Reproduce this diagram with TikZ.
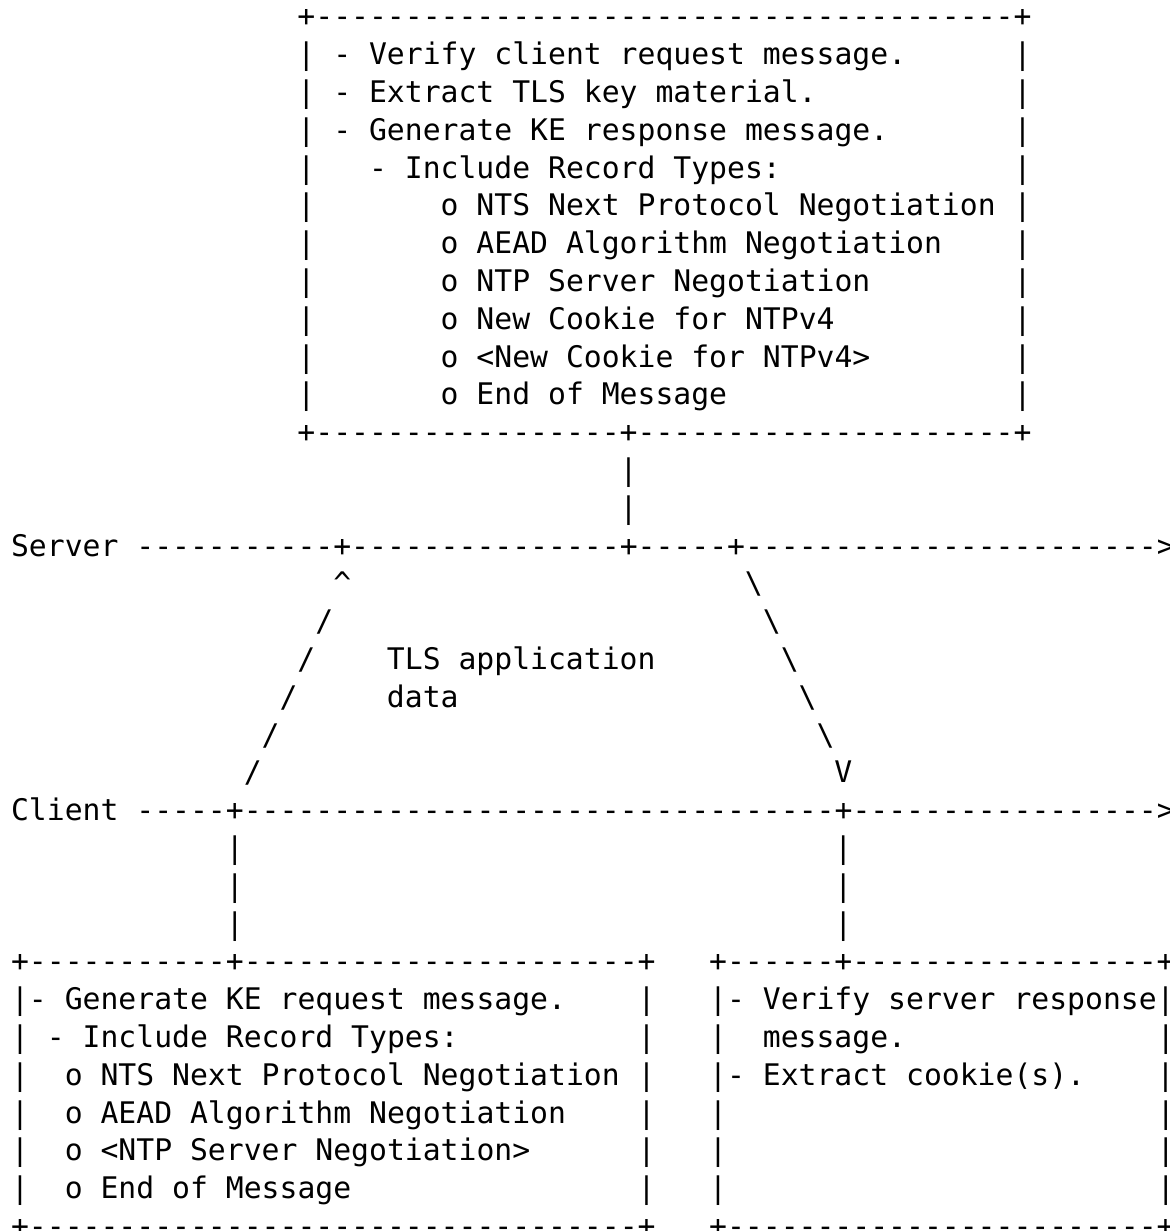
\documentclass[tikz,border=0pt]{standalone}
\usepackage{fontspec}
\setmonofont{DejaVu Sans Mono}
\newcommand{\gap}[1]{\hskip#1\fontcharwd\font`x\relax}
\newcommand{\hy}[1]{\foreach\k in {1,...,#1}{-}}
\begin{document}
\begin{tikzpicture}[x=8.95pt,y=-18.9pt,
  ascii/.style={anchor=base west,inner sep=0pt,outer sep=0pt,
    font=\ttfamily\fontsize{14.87pt}{18pt}\selectfont}]
\useasboundingbox (0,0) rectangle (65.363,32.566);
\begin{scope}[shift={(0.6173,-0.2884)}]
% server side: KE response box
\node[ascii] (rsp1) at (16,1) {+\hy{39}+};
\node[ascii] (rsp2) at (16,2) {| - Verify client request message.\gap{6}|};
\node[ascii] (rsp3) at (16,3) {| - Extract TLS key material.\gap{11}|};
\node[ascii] (rsp4) at (16,4) {| - Generate KE response message.\gap{7}|};
\node[ascii] (rsp5) at (16,5) {|\gap{3}- Include Record Types:\gap{13}|};
\node[ascii] (rsp6) at (16,6) {|\gap{7}o NTS Next Protocol Negotiation |};
\node[ascii] (rsp7) at (16,7) {|\gap{7}o AEAD Algorithm Negotiation\gap{4}|};
\node[ascii] (rsp8) at (16,8) {|\gap{7}o NTP Server Negotiation\gap{8}|};
\node[ascii] (rsp9) at (16,9) {|\gap{7}o New Cookie for NTPv4\gap{10}|};
\node[ascii] (rsp10) at (16,10) {|\gap{7}o <New Cookie for NTPv4>\gap{8}|};
\node[ascii] (rsp11) at (16,11) {|\gap{7}o End of Message\gap{16}|};
\node[ascii] (rsp12) at (16,12) {+\hy{17}+\hy{21}+};
\foreach \r in {13,14}
  \node[ascii] (rspbar\r) at (34,\r) {|};
% time lines
\node[ascii] (server) at (0,15) {Server \hy{11}+\hy{15}+\hy{5}+\hy{23}>};
\node[ascii] (client) at (0,22) {Client \hy{5}+\hy{33}+\hy{17}>};
% TLS application data
\node[ascii] (tip) at (18,16) {\textasciicircum};
\foreach \r in {17,...,21}
  \node[ascii] (up\r) at ({34-\r},\r) {/};
\foreach \r in {16,...,20}
  \node[ascii] (dn\r) at ({\r+25},\r) {\textbackslash};
\node[ascii] (head) at (46,21) {V};
\node[ascii] (tls) at (21,18) {TLS application};
\node[ascii] (data) at (21,19) {data};
\foreach \r in {23,24,25} {
  \node[ascii] (reqbar\r) at (12,\r) {|};
  \node[ascii] (chkbar\r) at (46,\r) {|};
}
% client side: KE request box
\node[ascii] (req1) at (0,26) {+\hy{11}+\hy{22}+};
\node[ascii] (req2) at (0,27) {|- Generate KE request message.\gap{4}|};
\node[ascii] (req3) at (0,28) {| - Include Record Types:\gap{10}|};
\node[ascii] (req4) at (0,29) {|\gap{2}o NTS Next Protocol Negotiation |};
\node[ascii] (req5) at (0,30) {|\gap{2}o AEAD Algorithm Negotiation\gap{4}|};
\node[ascii] (req6) at (0,31) {|\gap{2}o <NTP Server Negotiation>\gap{6}|};
\node[ascii] (req7) at (0,32) {|\gap{2}o End of Message\gap{16}|};
\node[ascii] (req8) at (0,33) {+\hy{34}+};
% client side: checking the response
\node[ascii] (chk1) at (39,26) {+\hy{6}+\hy{17}+};
\node[ascii] (chk2) at (39,27) {|- Verify server response|};
\node[ascii] (chk3) at (39,28) {|\gap{2}message.\gap{14}|};
\node[ascii] (chk4) at (39,29) {|- Extract cookie(s).\gap{4}|};
\foreach \r in {30,31,32}
  \node[ascii] (chk\r) at (39,\r) {|\gap{24}|};
\node[ascii] (chk8) at (39,33) {+\hy{24}+};
\end{scope}
\end{tikzpicture}
\end{document}
